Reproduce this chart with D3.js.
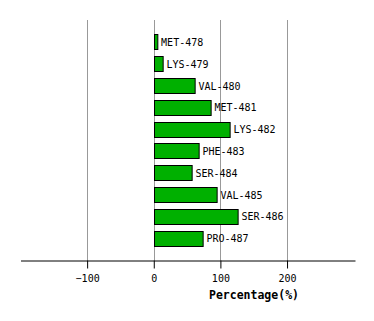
<!DOCTYPE html>
<html>
<head>
<meta charset="utf-8">
<script src="https://cdn.jsdelivr.net/npm/d3@7"></script>
<style>
  body { margin: 0; background: #fff; }
  svg text { font-family: "DejaVu Sans Mono", monospace; }
</style>
</head>
<body>
<svg id="chart" width="374" height="321"></svg>
<script>
let residues = ["MET-478", "LYS-479", "VAL-480", "MET-481", "LYS-482", "PHE-483", "SER-484", "VAL-485", "SER-486", "PRO-487"]
let percentages = [5, 13, 61, 85, 113.5, 67, 56.5, 94, 125.5, 73]
let tickValues = [-100, 0, 100, 200]

let svg = d3.select("#chart")

let xScale = d3.scaleLinear([-200, 302], [20.5, 355])
let yScale = d3.scaleBand(residues, [31, 249]).paddingInner(0.32).paddingOuter(0.16)

let axisY = 260.5

// grid lines
svg.selectAll("line.grid")
    .data(tickValues)
    .enter()
    .append("line")
    .attr("class", "grid")
    .attr("x1", d => Math.round(xScale(d)) + 0.5)
    .attr("x2", d => Math.round(xScale(d)) + 0.5)
    .attr("y1", 20)
    .attr("y2", axisY)
    .attr("stroke", "#999")
    .attr("stroke-width", 1)

// bars
svg.selectAll("rect.bar")
    .data(residues)
    .enter()
    .append("rect")
    .attr("class", "bar")
    .attr("x", Math.round(xScale(0)) + 0.5)
    .attr("y", d => Math.round(yScale(d)) + 0.5)
    .attr("width", (d, i) => xScale(percentages[i]) - xScale(0))
    .attr("height", Math.round(yScale.bandwidth()))
    .attr("fill", "#00b000")
    .attr("stroke", "#000")
    .attr("stroke-width", 1)

svg.selectAll("text.label")
    .data(residues)
    .enter()
    .append("text")
    .attr("class", "label")
    .attr("x", (d, i) => xScale(percentages[i]) + 4)
    .attr("y", d => yScale(d) + yScale.bandwidth() / 2 + 1)
    .attr("dominant-baseline", "middle")
    .attr("font-size", 10)
    .text(d => d)

// x axis
let axis = d3.axisBottom(xScale)
    .tickValues(tickValues)
    .tickSize(8)
    .tickSizeOuter(0)
    .tickPadding(6)
    .tickFormat(d => d < 0 ? "\u2212" + Math.abs(d) : d)

let g = svg.append("g")
    .attr("transform", `translate(0,${axisY})`)
    .call(axis)

g.select(".domain").attr("stroke", "#000")
g.selectAll(".tick line").attr("stroke", "#000")
g.selectAll(".tick text")
    .attr("font-family", "DejaVu Sans Mono, monospace")
    .attr("font-size", 10)
    .attr("fill", "#000")

svg.append("text")
    .attr("x", 254)
    .attr("y", 299)
    .attr("text-anchor", "middle")
    .attr("font-size", 11.5)
    .attr("font-weight", "bold")
    .text("Percentage(%)")
</script>
</body>
</html>
